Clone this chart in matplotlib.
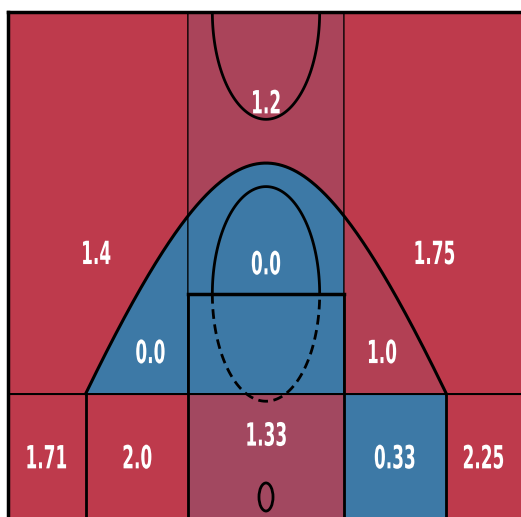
import matplotlib
matplotlib.use('Agg')
import matplotlib.pyplot as plt
import matplotlib.patheffects as pe
from matplotlib.colors import LinearSegmentedColormap
from matplotlib.patches import Polygon, Circle
from matplotlib.transforms import Affine2D
import numpy as np

# zone data (points per shot by court zone)
zones = ['left wing 3', 'left mid', 'paint', 'top 3', 'right mid', 'right wing 3',
         'left corner 3', 'left baseline', 'restricted area', 'right baseline', 'right corner 3']
values = [1.4, 0.0, 0.0, 1.2, 1.0, 1.75, 1.71, 2.0, 1.33, 0.33, 2.25]
# how hot each zone is vs average (0 = cold/blue, 1 = hot/red)
heat = [1.0, 0.0, 0.0, 0.84, 0.91, 1.0, 1.0, 1.0, 0.78, 0.0, 1.0]

# court geometry (feet, hoop at 0,0)
HALF = 25.0
TOP = 23.5
BASE = -3.0
BRK = 5.0
FT = 9.84
PW = 7.56
R_CIRCLE = 5.2
ARC_TOP, ARC_A, ARC_B = 16.18, 13.57, 17.73
CX = ARC_A * np.sqrt((1 + (ARC_TOP - BRK) / ARC_B) ** 2 - 1)


def arc_y(x):
    return ARC_TOP - ARC_B * (np.sqrt(1 + (x / ARC_A) ** 2) - 1)


def arc_pts(x0, x1):
    xs = np.linspace(x0, x1, 60)
    return list(zip(xs, arc_y(xs)))


shapes = [
    [(-HALF, BRK)] + arc_pts(-CX, -PW) + [(-PW, TOP), (-HALF, TOP)],
    arc_pts(-CX, -PW) + [(-PW, BRK)],
    [(-PW, BRK)] + arc_pts(-PW, PW) + [(PW, BRK)],
    arc_pts(-PW, PW) + [(PW, TOP), (-PW, TOP)],
    arc_pts(PW, CX) + [(PW, BRK)],
    [(HALF, BRK)] + arc_pts(CX, PW) + [(PW, TOP), (HALF, TOP)],
    [(-HALF, BASE), (-CX, BASE), (-CX, BRK), (-HALF, BRK)],
    [(-CX, BASE), (-PW, BASE), (-PW, BRK), (-CX, BRK)],
    [(-PW, BASE), (PW, BASE), (PW, BRK), (-PW, BRK)],
    [(PW, BASE), (CX, BASE), (CX, BRK), (PW, BRK)],
    [(CX, BASE), (HALF, BASE), (HALF, BRK), (CX, BRK)],
]
label_xy = [(-16.5, 11.7), (-11.2, 6.9), (0, 11.2), (0, 19.0), (11.2, 6.9), (16.3, 11.7),
            (-21.3, 1.8), (-12.5, 1.8), (0, 2.9), (12.5, 1.8), (23.2, 1.8)]
label_ha = ['center'] * 10 + ['right']


class Squeeze(pe.AbstractPathEffect):
    """narrow the text horizontally around its anchor"""
    def __init__(self, sx, anchor='center'):
        super().__init__()
        self.sx = sx
        self.anchor = anchor

    def draw_path(self, renderer, gc, tpath, affine, rgbFace=None):
        box = tpath.get_extents(affine)
        cx = box.x1 if self.anchor == 'right' else (box.x0 + box.x1) / 2
        sq = Affine2D().translate(-cx, 0).scale(self.sx, 1).translate(cx, 0)
        renderer.draw_path(gc, tpath, affine + sq, rgbFace)


cmap = LinearSegmentedColormap.from_list('court', ['#3D79A6', '#BE3A4C'])

fig = plt.figure(figsize=(5.21, 5.17), dpi=100)
ax = fig.add_axes([8 / 521, 0, 513 / 521, 505 / 517])
ax.set_xlim(-HALF, -HALF + 513 / 10.32)
ax.set_ylim(-20 / 20.64, TOP)
ax.axis('off')

for pts, h in zip(shapes, heat):
    ax.add_patch(Polygon(pts, closed=True, facecolor=cmap(h), edgecolor='black', lw=0.8, zorder=1))

lc = 'black'
xs = np.linspace(-CX, CX, 300)
ax.plot(xs, arc_y(xs), color=lc, lw=2.2, zorder=2)
for s in (-1, 1):
    ax.plot([s * CX, s * CX], [BASE, BRK], color=lc, lw=2, zorder=2)
    ax.plot([s * PW, s * PW], [BASE, FT], color=lc, lw=2, zorder=2)
ax.plot([-PW, PW], [FT, FT], color=lc, lw=2.5, zorder=2)
ax.plot([-HALF, HALF], [BRK, BRK], color=lc, lw=1.4, zorder=2)

t = np.linspace(0, np.pi, 100)
ax.plot(R_CIRCLE * np.cos(t), FT + R_CIRCLE * np.sin(t), color=lc, lw=2, zorder=2)
ax.plot(R_CIRCLE * np.cos(t + np.pi), FT + R_CIRCLE * np.sin(t + np.pi), color=lc, lw=2,
        dashes=(3.5, 2), zorder=2)
ax.plot(R_CIRCLE * np.cos(t + np.pi), TOP + R_CIRCLE * np.sin(t + np.pi), color=lc, lw=2, zorder=2)
ax.add_patch(Circle((0, 0), 0.68, fill=False, edgecolor=lc, lw=2, zorder=2))

ax.plot([-HALF, -HALF], [BASE, TOP], color=lc, lw=2.5, zorder=4, clip_on=False)
ax.plot([-HALF, HALF], [TOP, TOP], color=lc, lw=2.5, zorder=4, clip_on=False)

for (x, y), v, ha in zip(label_xy, values, label_ha):
    ax.text(x, y, str(v), color='white', fontsize=23, fontweight='bold',
            ha=ha, va='center', zorder=3, path_effects=[Squeeze(0.53, ha)])

fig.savefig('out.png', dpi=100)
